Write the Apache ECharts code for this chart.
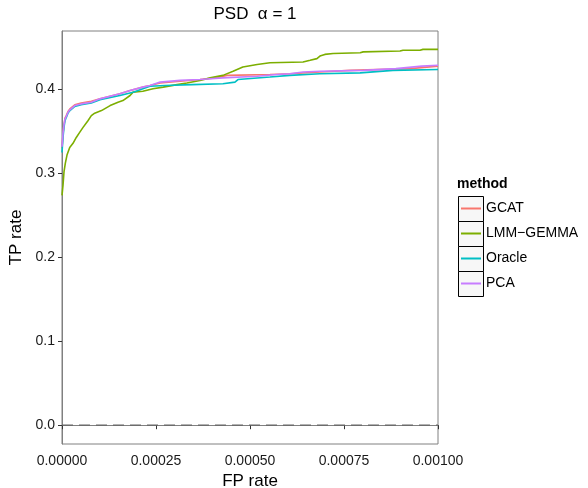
<!DOCTYPE html>
<html>
<head>
<meta charset="utf-8">
<script src="https://cdn.jsdelivr.net/npm/echarts@6/dist/echarts.min.js"></script>
<style>
html,body{margin:0;padding:0;background:#fff;}
#chart{width:588px;height:488px;}
</style>
</head>
<body>
<div id="chart"></div>
<script>
// FP values in units of 1e-5
var FP_UNIT = 1e-5;
var methods = ['GCAT', 'LMM\u2212GEMMA', 'Oracle', 'PCA'];
var colors = ['#F8766D', '#7CAE00', '#00BFC4', '#C77CFF'];

var gcatFP = [0,0.27,0.53,0.8,1.14,1.6,2.1,3.4,5.1,7.8,10.1,15.4,18.1,21.5,23.4,26.1,31.4,36.7,40.7,43.9,55.3,60.6,68.6,76.6,92.6,100];
var gcatTP = [0.330,0.347,0.358,0.366,0.369,0.374,0.377,0.382,0.384,0.386,0.389,0.395,0.399,0.403,0.405,0.408,0.410,0.412,0.414,0.417,0.418,0.419,0.421,0.423,0.425,0.428];

var lmmFP = [0,0.27,0.53,0.88,1.33,2.05,2.93,3.8,4.7,5.6,6.9,7.8,8.7,10.5,12.8,14.9,16.2,18.1,18.9,21.5,24.2,26.9,30.6,33.2,36.7,39.4,42.8,45.5,48.1,51.9,55.3,64.1,66.0,67.8,68.6,69.9,72.1,79.3,80.1,89.9,90.7,95.2,96.0,100];
var lmmTP = [0.274,0.286,0.302,0.312,0.322,0.331,0.336,0.343,0.349,0.355,0.363,0.369,0.372,0.375,0.381,0.385,0.387,0.393,0.397,0.398,0.401,0.403,0.406,0.408,0.411,0.414,0.417,0.422,0.427,0.430,0.432,0.433,0.435,0.437,0.440,0.442,0.443,0.444,0.445,0.446,0.447,0.447,0.448,0.448];

var oracleFP = [0,0.27,0.53,0.8,1.14,1.6,2.1,3.4,5.1,7.8,10.1,15.4,18.9,23.4,27.4,34.6,42.8,46.0,46.8,55.3,60.6,68.6,79.3,88.0,100];
var oracleTP = [0.325,0.343,0.355,0.363,0.367,0.372,0.375,0.380,0.382,0.384,0.388,0.393,0.397,0.404,0.405,0.406,0.407,0.409,0.412,0.415,0.417,0.419,0.420,0.423,0.424];

var pcaFP = [0,0.27,0.53,0.8,1.14,1.6,2.1,3.4,5.1,7.8,10.1,15.4,18.1,21.5,23.4,26.1,31.4,36.7,42.8,51.9,57.2,60.6,64.1,68.6,80.3,88.8,95.7,100];
var pcaTP = [0.332,0.348,0.358,0.365,0.368,0.373,0.376,0.381,0.383,0.385,0.389,0.395,0.399,0.403,0.405,0.409,0.411,0.412,0.414,0.416,0.418,0.419,0.421,0.422,0.423,0.425,0.428,0.429];

var xTicks = [0, 0.00025, 0.0005, 0.00075, 0.001];
var yTicks = [0, 0.1, 0.2, 0.3, 0.4];
var refLineTP = 0;

var FONT = '"Liberation Sans", Arial, Helvetica, sans-serif';

function pairs(fp, tp) {
  return fp.map(function (f, i) { return [f * FP_UNIT, tp[i]]; });
}
var seriesData = [pairs(gcatFP, gcatTP), pairs(lmmFP, lmmTP), pairs(oracleFP, oracleTP), pairs(pcaFP, pcaTP)];

var series = [{
  name: 'ref',
  type: 'line',
  data: [[xTicks[0], refLineTP], [xTicks[xTicks.length - 1], refLineTP]],
  showSymbol: false,
  silent: true,
  lineStyle: { color: '#666666', width: 1.2, type: [11, 6] },
  z: 1
}];
methods.forEach(function (m, i) {
  series.push({
    name: m,
    type: 'line',
    data: seriesData[i],
    showSymbol: false,
    lineStyle: { color: colors[i], width: 1.6 },
    itemStyle: { color: colors[i] },
    z: 2 + i
  });
});

var chart = echarts.init(document.getElementById('chart'), null, { renderer: 'canvas' });
var legendBoxes = methods.map(function (m, i) {
  return {
    type: 'rect',
    shape: { x: 458.5, y: 196.5 + 25 * i, width: 25, height: 25 },
    style: { fill: '#f7f7f7', stroke: '#000', lineWidth: 1 },
    z: 0
  };
});

chart.setOption({
  animation: false,
  backgroundColor: '#fff',
  textStyle: { fontFamily: FONT },
  title: [{
    text: 'PSD  \u03b1 = 1',
    left: 250, top: 1, textAlign: 'center',
    textStyle: { fontFamily: FONT, fontSize: 17, fontWeight: 'normal', color: '#000' }
  }, {
    text: 'method',
    left: 457, top: 177, padding: 0,
    textStyle: { fontFamily: FONT, fontSize: 14, fontWeight: 'bold', color: '#000' }
  }],
  grid: {
    left: 62, right: 150, top: 31, bottom: 44,
    outerBoundsMode: 'none',
    containLabel: false,
    show: true, borderColor: '#808080', borderWidth: 1, backgroundColor: '#fff'
  },
  legend: {
    data: methods,
    orient: 'vertical',
    left: 461, top: 196,
    padding: 0,
    itemGap: 0,
    itemWidth: 20,
    itemHeight: 2,
    icon: 'rect',
    selectedMode: false,
    textStyle: { fontFamily: FONT, fontSize: 14, color: '#000', lineHeight: 25 }
  },
  graphic: legendBoxes,
  xAxis: {
    type: 'value',
    min: xTicks[0], max: xTicks[xTicks.length - 1],
    interval: 0.00025,
    name: 'FP rate', nameLocation: 'middle', nameGap: 24,
    nameTextStyle: { fontFamily: FONT, fontSize: 17, color: '#000' },
    axisLine: { show: true, lineStyle: { color: '#808080', width: 1 } },
    axisTick: { show: true, length: 4, inside: false, lineStyle: { color: '#333', width: 1 } },
    axisLabel: {
      fontFamily: FONT, fontSize: 14, color: '#1a1a1a', margin: 10,
      formatter: function (v) { return v.toFixed(5); }
    },
    splitLine: { show: false }
  },
  yAxis: {
    type: 'value',
    min: -0.0224, max: 0.4699,
    name: 'TP rate', nameLocation: 'middle', nameGap: 36,
    nameTextStyle: { fontFamily: FONT, fontSize: 17, color: '#000' },
    axisLine: { show: true, lineStyle: { color: '#808080', width: 1 } },
    axisTick: { show: true, length: 4, customValues: yTicks, lineStyle: { color: '#333', width: 1 } },
    axisLabel: {
      fontFamily: FONT, fontSize: 14, color: '#1a1a1a', margin: 7,
      customValues: yTicks,
      formatter: function (v) { return v.toFixed(1); }
    },
    splitLine: { show: false }
  },
  series: series
});
</script>
</body>
</html>
